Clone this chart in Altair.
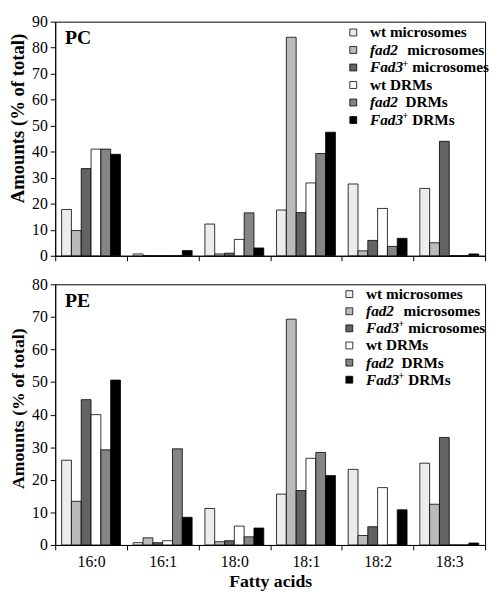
import altair as alt
import pandas as pd

# ---- data ----
acids = ["16:0", "16:1", "18:0", "18:1", "18:2", "18:3"]
series = ["wt microsomes", "fad2 microsomes", "Fad3+ microsomes",
          "wt DRMs", "fad2 DRMs", "Fad3+ DRMs"]

# PC (phosphatidylcholine), % of total
pc_wt_mic = [17.8, 0.7, 12.2, 17.6, 27.6, 25.9]
pc_fad2_mic = [9.7, 0.0, 0.7, 84.0, 1.9, 5.0]
pc_fad3_mic = [33.5, 0.0, 1.0, 16.6, 5.9, 44.0]
pc_wt_drm = [41.0, 0.0, 6.3, 28.0, 18.2, 0.0]
pc_fad2_drm = [41.0, 0.0, 16.5, 39.3, 3.6, 0.0]
pc_fad3_drm = [39.0, 2.0, 3.0, 47.5, 6.7, 0.7]

# PE (phosphatidylethanolamine), % of total
pe_wt_mic = [26.0, 0.7, 11.2, 15.6, 23.2, 25.1]
pe_fad2_mic = [13.4, 2.2, 1.0, 69.3, 2.9, 12.5]
pe_fad3_mic = [44.6, 0.7, 1.3, 16.7, 5.6, 33.0]
pe_wt_drm = [40.0, 1.3, 5.8, 26.6, 17.6, 0.0]
pe_fad2_drm = [29.2, 29.5, 2.5, 28.4, 0.0, 0.0]
pe_fad3_drm = [50.6, 8.5, 5.2, 21.3, 10.8, 0.6]

# legend text pieces
legend_italic = ["", "fad2", "Fad3", "", "fad2", "Fad3"]
legend_sup = ["", "", "+", "", "", "+"]
legend_rest = ["wt microsomes", "microsomes", "microsomes", "wt DRMs", "DRMs", "DRMs"]
legend_rest_dx = [0, 38, 43, 0, 36, 43]

colors = ["#ececec", "#bababa", "#636363", "#ffffff", "#858585", "#000000"]

FONT = "Liberation Serif"
PLOT_W = 437
LEG_FS = 15.5


def tidy(vals_list):
    rows = []
    for s, vals in zip(series, vals_list):
        for a, v in zip(acids, vals):
            rows.append({"acid": a, "series": s, "value": v})
    return pd.DataFrame(rows)


color_scale = alt.Scale(domain=series, range=colors)


def legend_layers(sym_x, text_x, y0, step):
    layers = []
    for i, s in enumerate(series):
        y = y0 + i * step
        d = pd.DataFrame({"series": [s]})
        layers.append(
            alt.Chart(d).mark_square(size=49, stroke="black", strokeWidth=0.8, opacity=1)
            .encode(x=alt.value(sym_x), y=alt.value(y),
                    color=alt.Color("series:N", scale=color_scale, legend=None))
        )
        if legend_italic[i]:
            layers.append(
                alt.Chart(d).mark_text(align="left", baseline="middle", font=FONT,
                                       fontSize=LEG_FS, fontWeight="bold", fontStyle="italic",
                                       color="black")
                .encode(x=alt.value(text_x), y=alt.value(y), text=alt.value(legend_italic[i]))
            )
        if legend_sup[i]:
            layers.append(
                alt.Chart(d).mark_text(align="left", baseline="middle", font=FONT,
                                       fontSize=10, fontWeight="bold", color="black")
                .encode(x=alt.value(text_x + 33), y=alt.value(y - 4), text=alt.value(legend_sup[i]))
            )
        layers.append(
            alt.Chart(d).mark_text(align="left", baseline="middle", font=FONT,
                                   fontSize=LEG_FS, fontWeight="bold", color="black")
            .encode(x=alt.value(text_x + legend_rest_dx[i]), y=alt.value(y),
                    text=alt.value(legend_rest[i]))
        )
    return layers


def panel(df, ymax, height, label, bottom, title_y, title_size, sym_x, text_x, leg_y0, leg_step):
    if bottom:
        x_enc = alt.X("acid:N", sort=acids, title="Fatty acids",
                      scale=alt.Scale(paddingInner=0, paddingOuter=0),
                      axis=alt.Axis(tickBand="extent", labelAngle=0, tickSize=5,
                                    labelFontSize=16, labelPadding=4,
                                    titleFontSize=18, titleFontWeight="bold", titlePadding=3))
    else:
        x_enc = alt.X("acid:N", sort=acids, title=None,
                      scale=alt.Scale(paddingInner=0, paddingOuter=0),
                      axis=alt.Axis(tickBand="extent", labels=False, tickSize=5))
    bars = alt.Chart(df).mark_bar(stroke="black", strokeWidth=0.8).encode(
        x=x_enc,
        xOffset=alt.XOffset("series:N", sort=series,
                            scale=alt.Scale(paddingInner=0, paddingOuter=0.65)),
        y=alt.Y("value:Q", title="Amounts (% of total)",
                scale=alt.Scale(domain=[0, ymax], nice=False),
                axis=alt.Axis(values=list(range(0, ymax + 1, 10)), tickSize=5,
                              labelFontSize=16, labelPadding=3, titleFontSize=title_size,
                              titleFontWeight="bold", titleY=title_y, titlePadding=4)),
        color=alt.Color("series:N", scale=color_scale, legend=None),
    )
    lab = alt.Chart(pd.DataFrame({"t": [label]})).mark_text(
        align="left", baseline="alphabetic", font=FONT, fontSize=20,
        fontWeight="bold", color="black"
    ).encode(x=alt.value(10), y=alt.value(23), text="t:N")
    return alt.layer(bars, lab, *legend_layers(sym_x, text_x, leg_y0, leg_step)).properties(
        width=PLOT_W, height=height)


top = panel(tidy([pc_wt_mic, pc_fad2_mic, pc_fad3_mic, pc_wt_drm, pc_fad2_drm, pc_fad3_drm]),
            90, 238, "PC", False, 98, 19, 303, 320, 11, 17.8)
bottom = panel(tidy([pe_wt_mic, pe_fad2_mic, pe_fad3_mic, pe_wt_drm, pe_fad2_drm, pe_fad3_drm]),
               80, 265, "PE", True, 126, 18, 299, 316, 10, 17.4)

chart = alt.vconcat(top, bottom, spacing=11).properties(padding=0).configure(
    font=FONT
).configure_view(
    stroke="black", strokeWidth=1
).configure_axis(
    labelFont=FONT, titleFont=FONT, labelColor="black", titleColor="black",
    domainColor="black", tickColor="black", grid=False, domainWidth=1, tickWidth=1
)

chart.save("out.html", embed_options={"renderer": "svg", "actions": False})
